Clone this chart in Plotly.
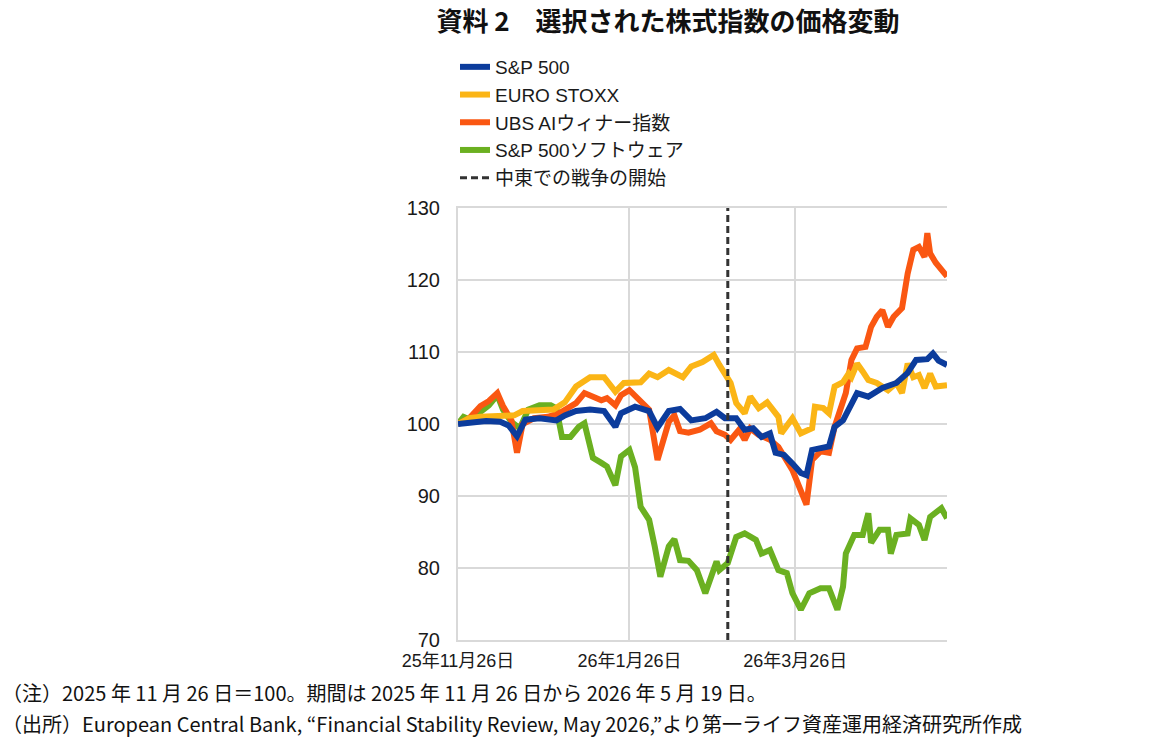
import plotly.graph_objects as go

# ---- data (index, 2025-11-26 = 100) ----
sp500_dates = ["2025-11-26","2025-11-30","2025-12-06","2025-12-11","2025-12-14","2025-12-17","2025-12-20",
    "2025-12-25","2025-12-31","2026-01-03","2026-01-07","2026-01-12","2026-01-17","2026-01-21","2026-01-23",
    "2026-01-28","2026-02-02","2026-02-05","2026-02-09","2026-02-13","2026-02-17","2026-02-22","2026-02-26",
    "2026-03-01","2026-03-05","2026-03-08","2026-03-11","2026-03-14","2026-03-17","2026-03-19","2026-03-22",
    "2026-03-25","2026-03-28","2026-03-30","2026-04-01","2026-04-07","2026-04-09","2026-04-12","2026-04-17",
    "2026-04-21","2026-04-26","2026-05-01","2026-05-05","2026-05-08","2026-05-12","2026-05-14","2026-05-16",
    "2026-05-19"]
sp500_vals = [100.0,100.2,100.4,100.3,99.8,98.3,100.6,
    100.8,100.5,101.2,101.8,102.0,101.8,99.6,101.5,
    102.4,101.8,99.5,101.8,102.1,100.5,100.8,101.7,
    100.8,100.8,99.2,99.4,98.2,98.7,96.0,95.7,
    94.5,93.2,92.9,96.4,96.9,99.6,100.5,104.3,
    103.8,105.0,105.7,107.1,108.9,109.0,109.8,108.8,
    108.2]

stoxx_dates = ["2025-11-26","2025-11-30","2025-12-04","2025-12-11","2025-12-16","2025-12-19","2025-12-25",
    "2025-12-30","2026-01-03","2026-01-07","2026-01-12","2026-01-17","2026-01-21","2026-01-24","2026-01-30",
    "2026-02-02","2026-02-05","2026-02-09","2026-02-14","2026-02-17","2026-02-21","2026-02-25","2026-02-27",
    "2026-03-03","2026-03-05","2026-03-08","2026-03-10","2026-03-13","2026-03-16","2026-03-20","2026-03-21",
    "2026-03-25","2026-03-28","2026-04-01","2026-04-02","2026-04-05","2026-04-07","2026-04-09","2026-04-12",
    "2026-04-14","2026-04-15","2026-04-17","2026-04-19","2026-04-21","2026-04-24","2026-04-28","2026-05-01",
    "2026-05-03","2026-05-05","2026-05-07","2026-05-09","2026-05-11","2026-05-13","2026-05-15","2026-05-19"]
stoxx_vals = [100.0,100.8,101.0,101.0,101.2,101.8,102.0,
    102.0,103.0,105.2,106.5,106.5,104.5,105.7,105.8,
    107.0,106.5,107.5,106.5,108.0,108.6,109.6,108.2,
    105.7,102.9,101.5,103.8,102.2,103.0,101.0,98.7,
    100.8,98.7,99.4,102.4,102.2,101.5,105.2,105.8,
    107.0,106.5,108.4,107.3,106.1,105.7,104.7,105.7,
    104.3,108.4,106.5,106.8,105.0,107.0,105.2,105.4]

ubs_dates = ["2025-11-26","2025-11-30","2025-12-04","2025-12-07","2025-12-10","2025-12-12","2025-12-15",
    "2025-12-17","2025-12-19","2025-12-23","2025-12-28","2026-01-01","2026-01-07","2026-01-10","2026-01-16",
    "2026-01-18","2026-01-21","2026-01-23","2026-01-26","2026-01-30","2026-02-02","2026-02-05","2026-02-09",
    "2026-02-11","2026-02-13","2026-02-16","2026-02-20","2026-02-24","2026-02-26","2026-03-01","2026-03-03",
    "2026-03-06","2026-03-08","2026-03-10","2026-03-13","2026-03-17","2026-03-20","2026-03-25","2026-03-28",
    "2026-03-30","2026-04-01","2026-04-04","2026-04-07","2026-04-09","2026-04-13","2026-04-15","2026-04-17",
    "2026-04-20","2026-04-22","2026-04-24","2026-04-26","2026-04-28","2026-04-30","2026-05-03","2026-05-05",
    "2026-05-07","2026-05-09","2026-05-11","2026-05-12","2026-05-13","2026-05-15","2026-05-19"]
ubs_vals = [100.0,100.8,102.5,103.2,104.3,102.5,100.5,
    96.0,100.0,100.8,101.0,101.5,102.9,104.3,103.3,
    103.6,102.6,104.0,104.7,103.3,102.0,95.0,100.3,
    101.2,99.0,98.8,99.2,100.1,99.0,98.5,97.8,
    99.2,97.8,99.4,98.5,97.8,96.8,93.6,90.5,
    88.8,95.0,96.2,96.0,99.6,104.3,108.9,110.5,
    110.7,113.5,114.9,115.8,113.5,114.9,116.1,120.9,
    124.2,124.6,123.2,126.5,123.7,122.4,120.5]

soft_dates = ["2025-11-26","2025-11-28","2025-12-01","2025-12-04","2025-12-07","2025-12-10","2025-12-12",
    "2025-12-15","2025-12-18","2025-12-21","2025-12-25","2025-12-29","2025-12-31","2026-01-02","2026-01-05",
    "2026-01-08","2026-01-10","2026-01-13","2026-01-16","2026-01-18","2026-01-21","2026-01-23","2026-01-26",
    "2026-01-28","2026-01-30","2026-02-02","2026-02-04","2026-02-06","2026-02-09","2026-02-11","2026-02-13",
    "2026-02-16","2026-02-19","2026-02-22","2026-02-26","2026-02-27","2026-03-02","2026-03-05","2026-03-08",
    "2026-03-12","2026-03-14","2026-03-17","2026-03-20","2026-03-23","2026-03-25","2026-03-28","2026-03-31",
    "2026-04-04","2026-04-07","2026-04-10","2026-04-12","2026-04-13","2026-04-16","2026-04-19","2026-04-21",
    "2026-04-22","2026-04-25","2026-04-28","2026-04-29","2026-05-01","2026-05-05","2026-05-06","2026-05-09",
    "2026-05-11","2026-05-13","2026-05-17","2026-05-19"]
soft_vals = [100.0,101.0,100.5,101.7,102.6,104.0,102.0,
    100.3,99.4,102.0,102.6,102.6,102.2,98.2,98.2,
    99.6,100.1,95.3,94.6,94.1,91.5,95.5,96.4,
    94.0,88.5,86.7,83.0,78.8,83.0,84.0,81.1,
    81.0,79.7,76.5,80.9,79.7,80.7,84.3,84.8,
    83.9,82.0,82.5,79.7,79.3,76.5,74.2,76.5,
    77.2,77.2,74.2,77.4,82.0,84.6,84.6,87.6,
    83.5,85.3,85.3,82.0,84.6,84.8,86.9,86.0,
    83.9,87.1,88.3,86.9]

war_date = "2026-03-02"
y_range = [70, 130]
x_tickvals = ["2025-11-26", "2026-01-26", "2026-03-26"]
x_ticktext = ["25年11月26日", "26年1月26日", "26年3月26日"]
y_tickvals = [70, 80, 90, 100, 110, 120, 130]

names = ["S&P 500", "EURO STOXX", "UBS AIウィナー指数", "S&P 500ソフトウェア", "中東での戦争の開始"]
colors = ["#0c3c9c", "#fbb516", "#fa5712", "#6bb021", "#333333"]

title_text = "資料 2　選択された株式指数の価格変動"
note1 = "（注）2025 年 11 月 26 日＝100。期間は 2025 年 11 月 26 日から 2026 年 5 月 19 日。"
note2 = "（出所）European Central Bank, “Financial Stability Review, May 2026,”より第一ライフ資産運用経済研究所作成"

FONT = "Liberation Sans, Arial, Noto Sans CJK JP, sans-serif"
CJK = "Noto Sans CJK JP, sans-serif"
GRID = "#d9d9d9"

fig = go.Figure()
series = [(sp500_dates, sp500_vals), (stoxx_dates, stoxx_vals), (ubs_dates, ubs_vals), (soft_dates, soft_vals)]
order = [3, 2, 1, 0]
for i in order:
    d, v = series[i]
    fig.add_trace(go.Scatter(x=d, y=v, mode="lines", name=names[i],
                             line=dict(color=colors[i], width=6), legendrank=i + 1))
fig.add_trace(go.Scatter(x=[war_date, war_date], y=y_range, mode="lines", name=names[4],
                         line=dict(color=colors[4], width=3, dash="7px,4px"), legendrank=5))

W, H = 1166, 741
L, R, T, B = 458, 219, 208, 101
pw = W - L - R
ph = H - T - B

fig.update_layout(
    width=W, height=H,
    margin=dict(l=L, r=R, t=T, b=B),
    paper_bgcolor="white", plot_bgcolor="white",
    font=dict(family=FONT, color="#1a1a1a"),
    title=dict(text=title_text, x=668 / W, xanchor="center", y=1 - 22 / H, yanchor="middle",
               font=dict(family=CJK, size=26, color="#111111", weight=700)),
    showlegend=True,
    legend=dict(x=(455 - L) / pw, xanchor="left", y=(H - B - 48) / ph, yanchor="top",
                font=dict(family=FONT, size=19, color="#1a1a1a"),
                bgcolor="rgba(0,0,0,0)", tracegroupgap=0, traceorder="normal"),
    xaxis=dict(type="date", range=["2025-11-26", "2026-05-19"], tickvals=x_tickvals, ticktext=x_ticktext,
               showgrid=True, gridcolor=GRID, gridwidth=2, zeroline=False,
               showline=True, linecolor=GRID, linewidth=2, mirror=True,
               ticks="", ticklabelstandoff=3, tickfont=dict(family=FONT, size=18, color="#1a1a1a")),
    yaxis=dict(range=y_range, tickvals=y_tickvals, showgrid=True, gridcolor=GRID, gridwidth=2,
               zeroline=False, showline=True, linecolor=GRID, linewidth=2, mirror=False,
               ticks="", ticklabelstandoff=12,
               tickfont=dict(family=FONT, size=20, color="#1a1a1a")),
)

fig.add_annotation(text=note1, xref="paper", yref="paper", x=(0 - L) / pw, y=(H - B - 692) / ph,
                   xanchor="left", yanchor="middle", showarrow=False,
                   font=dict(family=CJK, size=20, color="#111111"))
fig.add_annotation(text=note2, xref="paper", yref="paper", x=(0 - L) / pw, y=(H - B - 723) / ph,
                   xanchor="left", yanchor="middle", showarrow=False,
                   font=dict(family=CJK, size=20, color="#111111"))

fig.write_html("out.html")
